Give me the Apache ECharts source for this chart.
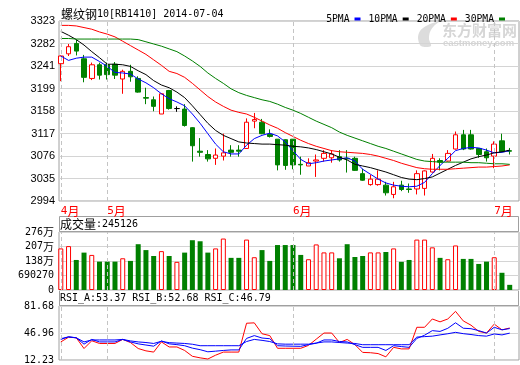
<!DOCTYPE html>
<html><head><meta charset="utf-8">
<script src="https://cdn.jsdelivr.net/npm/echarts@6/dist/echarts.min.js"></script>
<style>html,body{margin:0;padding:0;background:#fff}#c{width:520px;height:365px}</style>
</head><body><div id="c"></div>
<script>
// ---------- data ----------
const titleText = '螺纹钢10[RB1410] 2014-07-04';
const opens  = [3245,3263,3282,3254,3218,3243,3243,3244,3217,3231,3218,3183,3179,3153,3196,3163,3162,3128,3085,3079,3072,3076,3087,3087,3090,3140,3138,3116,3107,3106,3107,3061,3058,3067,3072,3073,3075,3072,3072,3044,3024,3024,3023,3006,3023,3016,3016,3017,3047,3068,3067,3089,3115,3115,3090,3084,3076,3104,3086];
const closes = [3259,3276,3268,3220,3243,3224,3225,3224,3231,3221,3193,3182,3167,3190,3163,3163,3132,3095,3083,3071,3078,3082,3083,3085,3138,3143,3117,3112,3060,3059,3060,3060,3064,3069,3081,3080,3069,3071,3050,3032,3034,3034,3009,3020,3015,3015,3044,3049,3072,3065,3081,3115,3089,3089,3079,3073,3098,3084,3085];
const lows   = [3213,3259,3260,3211,3215,3216,3216,3217,3190,3212,3192,3171,3158,3153,3161,3157,3130,3066,3075,3066,3060,3068,3075,3075,3089,3127,3116,3110,3050,3051,3052,3042,3058,3038,3066,3064,3066,3046,3049,3031,3022,3022,3004,2999,3012,3009,3006,3004,3046,3050,3066,3088,3087,3088,3073,3066,3054,3084,3079];
const highs  = [3260,3281,3289,3261,3247,3247,3247,3248,3234,3243,3222,3201,3185,3191,3197,3167,3171,3129,3109,3087,3090,3117,3096,3096,3145,3155,3144,3125,3107,3107,3107,3075,3072,3079,3087,3087,3087,3087,3075,3053,3042,3050,3029,3029,3031,3026,3050,3050,3080,3072,3087,3121,3124,3124,3090,3090,3103,3117,3091];
const volumes = [1980000,2090000,1430000,1780000,1670000,1350000,1350000,1350000,1510000,1385000,2180000,1900000,1620000,1850000,1620000,1340000,1780000,2370000,2320000,1780000,1980000,2450000,1530000,1530000,2400000,1560000,1900000,1385000,2140000,2140000,2140000,1670000,1465000,2170000,1790000,1790000,1510000,2180000,1570000,1620000,1790000,1790000,1810000,1980000,1340000,1430000,2400000,2400000,2030000,1530000,1465000,2120000,1480000,1480000,1240000,1350000,1560000,820000,245126];
const ma5  = [3259,3251,3255,3257,3257,3249,3240,3229,3228,3226,3217,3210,3201,3190,3181,3175,3168,3153,3136,3117,3098,3084,3080,3080,3096,3108,3114,3118,3113,3102,3086,3070,3062,3064,3067,3069,3071,3073,3067,3052,3043,3034,3027,3023,3021,3020,3021,3028,3044,3059,3072,3086,3090,3092,3091,3087,3082,3083,3086];
const ma10 = [3304,3297,3289,3279,3267,3256,3244,3244,3243,3240,3232,3225,3214,3206,3201,3193,3183,3168,3152,3136,3123,3114,3108,3102,3100,3099,3098,3098,3097,3096,3094,3093,3091,3088,3084,3080,3074,3069,3061,3058,3055,3051,3047,3042,3037,3034,3033,3035,3038,3045,3052,3059,3065,3071,3075,3078,3082,3084,3087];
const ma20 = [3315,3315,3314,3311,3308,3303,3299,3294,3286,3278,3270,3262,3252,3242,3231,3227,3220,3209,3197,3185,3175,3167,3160,3156,3153,3147,3140,3133,3127,3119,3112,3105,3099,3094,3090,3086,3084,3083,3082,3081,3079,3076,3072,3068,3063,3059,3055,3053,3052,3052,3052,3053,3054,3055,3056,3056,3057,3058,3060];
const ma30 = [3291,3291,3290,3290,3290,3290,3290,3290,3290,3290,3289,3285,3281,3277,3272,3267,3259,3250,3240,3228,3218,3209,3199,3192,3187,3183,3179,3176,3171,3165,3160,3154,3147,3140,3134,3128,3120,3114,3109,3104,3099,3094,3090,3085,3080,3075,3070,3067,3066,3065,3065,3065,3065,3064,3064,3063,3062,3062,3061];
const rsiA = [35.5,41.5,40.8,27,37,33.5,33.5,33.5,38.7,34.7,27,24,22.4,35.5,29,29,24.5,17,15,13.5,18.4,22.4,22.4,22.4,59.5,60,46,43.6,27.3,27.3,27.3,27.3,31,39,46.9,46.9,34.7,38.7,32,22,21.6,20.5,16.3,28.5,26.5,26.5,54.3,54.3,65,61.3,65,74.8,62.5,57,49,46.9,58.4,51,53.37];
const rsiB = [38.7,42,40.8,32.6,38.7,35.5,35.5,35.5,38.7,35.5,33,31.5,30,36.8,33,32,30.6,27.5,25.5,22.8,23.6,24.5,25.2,25.2,40,43.6,40.5,39.6,30.6,30.2,30,29.8,32,33.8,38,38,36,35.5,32,28.5,28.5,28.5,24.5,30.6,29.5,28.5,40,44.1,50,49,53,60.1,53.1,52.5,50,46.9,54.3,51,52.68];
const rsiC = [39.6,42,40.8,35.5,38,38,38,38,38.7,36.8,35.5,34.7,33.5,36.3,34.5,34,33.5,32.5,30.6,30.6,30.6,30.6,30.6,30.6,36,38.7,37.5,36,33,32.6,32.6,32.6,32.6,34,35.5,35.5,34.7,34,33.5,31.9,31.9,31.9,31.9,31.9,31.9,31.9,41.7,42.3,42.9,44.5,46,47.8,46.1,45,43.6,42.9,45.7,44.5,46.79];
const maNames = ['5PMA','10PMA','20PMA','30PMA'];
const monthNames = ['4月','5月','6月','7月'];
const monthStartIdx = [0, 6, 30, 56];
const priceTickLabels = ['2994','3035','3076','3117','3158','3199','3241','3282','3323'];
const volTickLabels = ['0','690270','138万','207万','276万'];
const rsiTickLabels = ['12.23','46.96','81.68'];
const volTitle = '成交量';
const volLast = 245126;
const rsiNames = ['RSI_A','RSI_B','RSI_C'];
const rsiLast = ['53.37','52.68','46.79'];

// ---------- helpers ----------
const RED = '#ff0000', GREEN = '#008000', BLUE = '#0000ff', BLACK = '#000000';
const MONO = 'DejaVu Sans Mono';
const CJK = 'Noto Sans CJK SC';
function mixed(s){
  return s.replace(/([\u3400-\u9fff]+)|([^\u3400-\u9fff]+)/g,(m,c,e)=> c ? '{cn|'+c+'}' : '{en|'+e+'}');
}
function richFor(color, cnSize, enSize){
  return { cn:{fontFamily:CJK, fontSize:cnSize, color:color, lineHeight:14},
           en:{fontFamily:MONO, fontSize:enSize, color:color, lineHeight:14} };
}
const xMin = -0.2326, xMax = 59.2;
const pMin = 2994, pMax = 3323, pInt = (pMax - pMin) / (priceTickLabels.length - 1);
const vMax = 2761080, vInt = vMax / (volTickLabels.length - 1);
const rMin = 12.23, rMax = 81.68, rInt = (rMax - rMin) / (rsiTickLabels.length - 1);

const candleData = opens.map((o,i)=>{
  const it = {value:[i, o, closes[i], lows[i], highs[i]]};
  if (o === closes[i]) it.itemStyle = {borderColor:BLACK, borderColor0:BLACK, color:BLACK, color0:BLACK};
  return it;
});
const volData = volumes.map((v,i)=>({
  value:[i, v],
  itemStyle: closes[i] >= opens[i] ? {color:'#ffffff', borderColor:RED, borderWidth:1} : {color:GREEN, borderColor:GREEN, borderWidth:0}
}));
const monthLine = {
  silent:true, symbol:['none','none'], label:{show:false}, animation:false,
  lineStyle:{color:'#c4c4c4', type:[4,3], width:1},
  emphasis:{disabled:true},
  data: monthStartIdx.map(i=>({xAxis:i}))
};
const gridBase = {left:59, right:1, show:true, borderColor:'#a0a0a0', borderWidth:1, backgroundColor:'transparent'};
function xAx(gi, withLabels){
  return {type:'value', gridIndex:gi, min:xMin, max:xMax, splitLine:{show:false}, axisLine:{show:false}, axisTick:{show:false},
    axisLabel: withLabels ? {
      show:true, customValues: monthStartIdx, align:'left', margin:3,
      formatter:(v)=>{ const k = monthStartIdx.indexOf(Math.round(v)); return k < 0 ? '' : mixed(monthNames[k]); },
      rich: richFor(RED, 12, 11)
    } : {show:false}};
}
const splitStyle = {show:true, lineStyle:{color:'#d4d4d4', width:1}};
const mkLine = (name, arr, color, xi, yi) => ({
  name, type:'line', xAxisIndex:xi, yAxisIndex:yi, data: arr.map((v,i)=>[i,v]),
  symbol:'none', color, lineStyle:{color, width:1}, z:4, animation:false, silent:true
});

const option = {
  animation:false,
  backgroundColor:'#ffffff',
  grid:[
    Object.assign({top:21, height:180}, gridBase),
    Object.assign({top:232, height:58}, gridBase),
    Object.assign({top:306, height:57}, gridBase)
  ],
  legend:{
    data: maNames, right:10, top:9, icon:'rect', itemWidth:6, itemHeight:3, itemGap:8, align:'right',
    selectedMode:false, textStyle:{fontFamily:MONO, fontSize:9.7, color:BLACK}
  },
  xAxis:[xAx(0,true), xAx(1,false), xAx(2,false)],
  yAxis:[
    {type:'value', gridIndex:0, min:pMin, max:pMax, interval:pInt, splitLine:splitStyle, axisLine:{show:false}, axisTick:{show:false},
      axisLabel:{margin:4, fontFamily:'Liberation Sans', fontSize:11, color:BLACK,
        formatter:(v)=>priceTickLabels[Math.round((v-pMin)/pInt)]}},
    {type:'value', gridIndex:1, min:0, max:vMax, interval:vInt, splitLine:splitStyle, axisLine:{show:false}, axisTick:{show:false},
      axisLabel:{margin:5, rich: richFor(BLACK, 11, 10),
        formatter:(v)=>mixed(volTickLabels[Math.round(v/vInt)])}},
    {type:'value', gridIndex:2, min:rMin, max:rMax, interval:rInt, splitLine:splitStyle, axisLine:{show:false}, axisTick:{show:false},
      axisLabel:{margin:5, fontFamily:MONO, fontSize:10, color:BLACK,
        formatter:(v)=>rsiTickLabels[Math.round((v-rMin)/rInt)]}}
  ],
  series:[
    {type:'candlestick', xAxisIndex:0, yAxisIndex:0, data:candleData, barWidth:5, clip:false, z:3, silent:true,
      itemStyle:{color:'#ffffff', color0:GREEN, borderColor:RED, borderColor0:GREEN, borderColorDoji:BLACK, borderWidth:1},
      markLine: monthLine},
    mkLine(maNames[0], ma5, BLUE, 0, 0),
    mkLine(maNames[1], ma10, BLACK, 0, 0),
    mkLine(maNames[2], ma20, RED, 0, 0),
    mkLine(maNames[3], ma30, GREEN, 0, 0),
    {type:'bar', xAxisIndex:1, yAxisIndex:1, data:volData, barWidth:5, silent:true, z:3, markLine: monthLine},
    Object.assign(mkLine(rsiNames[0], rsiA, RED, 2, 2), {markLine: monthLine}),
    mkLine(rsiNames[1], rsiB, BLUE, 2, 2),
    mkLine(rsiNames[2], rsiC, BLUE, 2, 2)
  ],
  graphic:[
    {type:'polygon', z:-10, silent:true, shape:{points:[[421,46],[418,38],[420,31],[426,26],[433,23],[440,21],[434,26],[430,32],[429,39],[431,46]], smooth:0.3}, style:{fill:'#dcdcdc'}},
    {type:'text', x:442, y:23, z:-10, silent:true, style:{text:'东方财富网', fontFamily:CJK, fontWeight:'bold', fontSize:15, fill:'#d6d6d6'}},
    {type:'text', x:443, y:38, z:-10, silent:true, style:{text:'eastmoney.com', fontFamily:'Liberation Sans', fontWeight:'bold', fontSize:9.5, fill:'#d6d6d6'}},
    {type:'text', x:61, y:14, silent:true, style:{text: mixed(titleText), rich: richFor(BLACK, 12, 10), verticalAlign:'middle'}},
    {type:'rect', silent:true, shape:{x:59.5, y:216.5, width:459, height:15}, style:{fill:null, stroke:'#a0a0a0', lineWidth:1}},
    {type:'text', x:60, y:224.5, silent:true, style:{text: mixed(volTitle + ':' + volLast), rich: richFor(BLACK, 12, 10), verticalAlign:'middle'}},
    {type:'rect', silent:true, shape:{x:59.5, y:290.5, width:459, height:15}, style:{fill:null, stroke:'#a0a0a0', lineWidth:1}},
    {type:'text', x:60, y:298.5, silent:true, style:{
      text: rsiNames.map((n,k)=>'{s'+k+'|'+n+':'+rsiLast[k]+(k<rsiNames.length-1?' ':'')+'}').join(''),
      rich:{s0:{fontFamily:MONO, fontSize:10, color:RED, lineHeight:14}, s1:{fontFamily:MONO, fontSize:10, color:BLUE, lineHeight:14}, s2:{fontFamily:MONO, fontSize:10, color:BLUE, lineHeight:14}},
      verticalAlign:'middle'}}
  ]
};
const chart = echarts.init(document.getElementById('c'), null, {renderer:'canvas'});
chart.setOption(option);
</script>
</body></html>
